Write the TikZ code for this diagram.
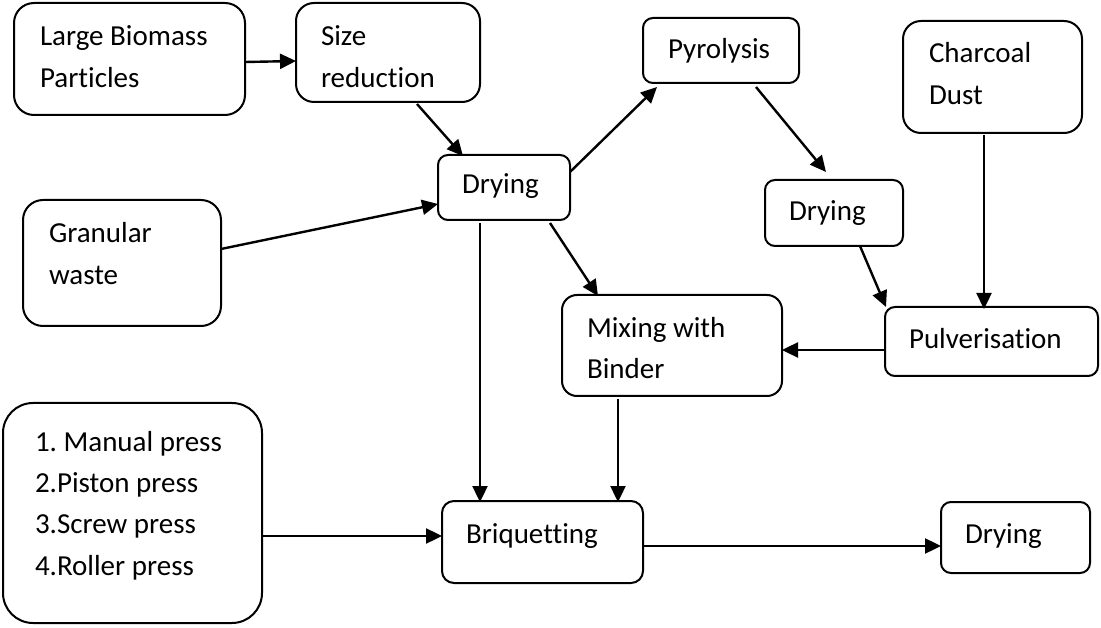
\documentclass[tikz,border=0pt]{standalone}
\usepackage{fontspec}
\setmainfont{Carlito}[Ligatures={NoCommon,NoRequired,NoContextual},Contextuals={NoAlternate}]
\usetikzlibrary{arrows.meta,fit}
\frenchspacing
\begin{document}
\begin{tikzpicture}[x=1pt,y=-1pt,
  box/.style={draw=black, line width=2pt, rectangle, inner sep=0pt, outer sep=0pt},
  txt/.style={anchor=base west, inner sep=0pt, outer sep=0pt, align=left,
              font=\fontsize{29}{42}\selectfont\frenchspacing},
  arr/.style={line width=2.4pt, -{Triangle[length=16pt,width=15pt]}}]
\useasboundingbox (0,0) rectangle (1101,628);
% boxes
\node[box, rounded corners=20pt, fit={(14,3) (245,115)}] (lb) {};
\node[box, rounded corners=18pt, fit={(296,3) (480,102)}] (sr) {};
\node[box, rounded corners=10pt, fit={(438,155) (570,220)}] (d1) {};
\node[box, rounded corners=20pt, fit={(23,200) (221,326)}] (gw) {};
\node[box, rounded corners=10pt, fit={(643,18) (799,83)}] (pyr) {};
\node[box, rounded corners=18pt, fit={(903,21) (1082,133)}] (cd) {};
\node[box, rounded corners=10pt, fit={(765,180) (903,246)}] (d2) {};
\node[box, rounded corners=10pt, fit={(885,307) (1098,376)}] (pulv) {};
\node[box, rounded corners=15pt, fit={(562,295) (782,396)}] (mix) {};
\node[box, rounded corners=12pt, fit={(442,501) (643,583)}] (briq) {};
\node[box, rounded corners=30pt, fit={(3,403) (262,623)}] (press) {};
\node[box, rounded corners=10pt, fit={(941,502) (1090,573)}] (d3) {};
% texts (base anchor = baseline of the last line)
\node[txt] (lbT) at (40,88) {Large Biomass\\Particles};
\node[txt] (srT) at (321,88) {Size\\reduction};
\node[txt] (d1T) at (462,194) {Drying};
\node[txt] (gwT) at (49,285) {Granular\\waste};
\node[txt] (pyrT) at (668,59) {Pyrolysis};
\node[txt] (cdT) at (929,105) {Charcoal\\Dust};
\node[txt] (d2T) at (789,221) {Drying};
\node[txt] (pulvT) at (909,349) {Pulverisation};
\node[txt] (mixT) at (587,379) {Mixing with\\Binder};
\node[txt] (briqT) at (466,543) {Briquetting};
\node[txt, font=\fontsize{29}{41.3}\selectfont\frenchspacing] (pressT) at (35,575) {1. Manual press\\2.Piston press\\3.Screw press\\4.Roller press};
\node[txt] (d3T) at (965,543) {Drying};
% connectors
\draw[arr] ([yshift=-3pt]lb.east) -- ([yshift=-8.5pt]sr.west);
\draw[arr] ([xshift=29pt,yshift=-2pt]sr.south) -- ([xshift=25pt,yshift=-1pt]d1.north west);
\draw[arr] ([yshift=14pt]gw.east) -- ([yshift=-16.5pt]d1.west);
\draw[arr] ([yshift=15.5pt]d1.east) -- ([xshift=14pt,yshift=-4pt]pyr.south west);
\draw[arr] ([xshift=35pt,yshift=-4pt]pyr.south) -- ([xshift=-8pt,yshift=8pt]d2.north);
\draw[arr] ([xshift=26pt]d2.south) -- ([xshift=1pt]pulv.north west);
\draw[arr] ([xshift=-8.5pt,yshift=-2pt]cd.south) -- ([xshift=-7.5pt,yshift=-2pt]pulv.north);
\draw[arr] ([yshift=-8.5pt]pulv.west) -- ([yshift=-4.5pt]mix.east);
\draw[arr] ([xshift=46pt,yshift=-3pt]d1.south) -- ([xshift=36pt,yshift=-1pt]mix.north west);
\draw[arr] ([xshift=-24pt,yshift=-3pt]d1.south) -- ([xshift=-62.5pt,yshift=-1pt]briq.north);
\draw[arr] ([xshift=-54pt,yshift=-3pt]mix.south) -- ([xshift=75.5pt,yshift=-1pt]briq.north);
\draw[arr] ([yshift=-23pt]press.east) -- ([yshift=6pt]briq.west);
\draw[arr] ([yshift=-4pt]briq.east) -- ([yshift=-8.5pt]d3.west);
\end{tikzpicture}
\end{document}
